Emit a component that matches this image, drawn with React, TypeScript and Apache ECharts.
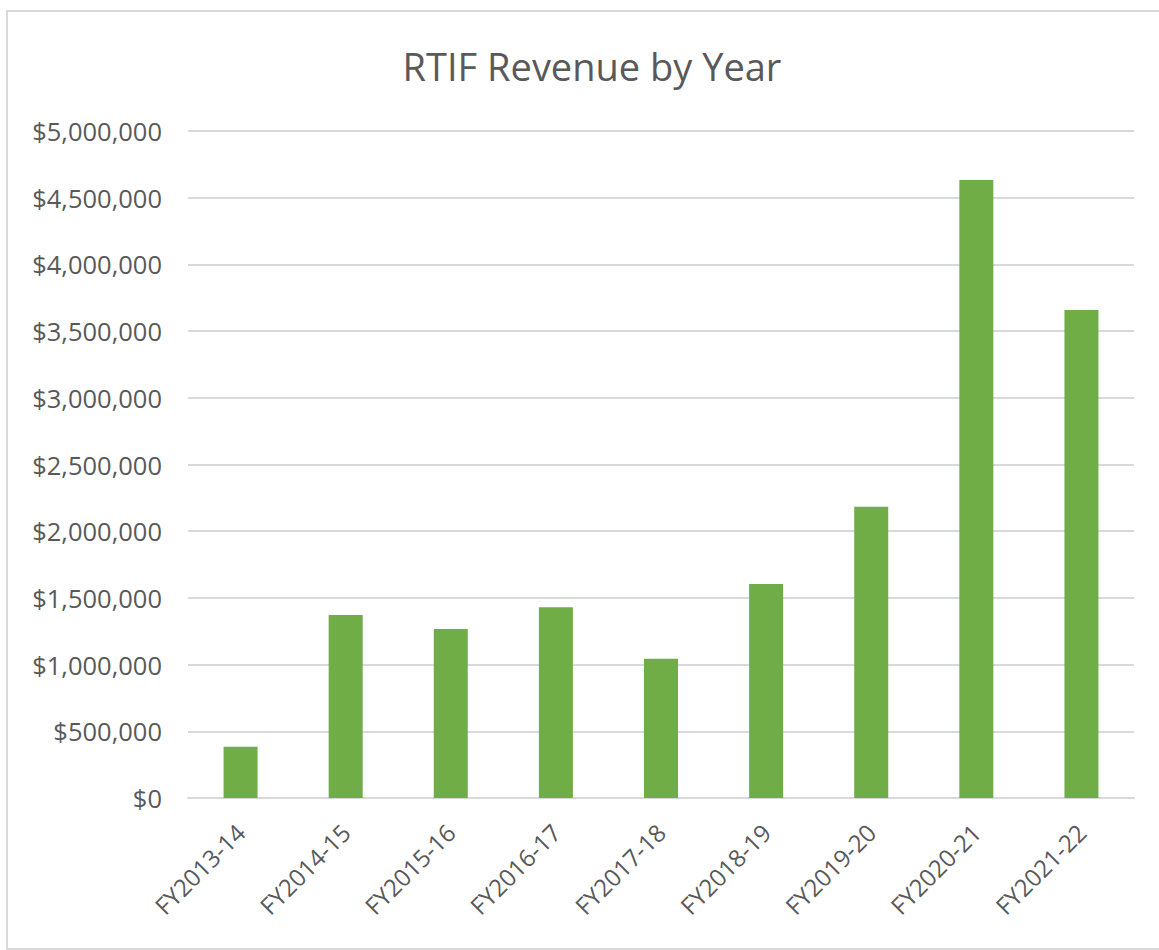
import React, { useEffect, useRef } from "react";
import * as echarts from "echarts";

const categories: string[] = [
  "FY2013-14",
  "FY2014-15",
  "FY2015-16",
  "FY2016-17",
  "FY2017-18",
  "FY2018-19",
  "FY2019-20",
  "FY2020-21",
  "FY2021-22",
];

const revenue: number[] = [385000, 1372000, 1267000, 1429000, 1044000, 1604000, 2184000, 4633000, 3658000];

const chartTitle = "RTIF Revenue by Year";
const yMin = 0;
const yMax = 5000000;
const yInterval = 500000;

const fmtMoney = (v: number) => "$" + v.toLocaleString("en-US");

export default function App() {
  const ref = useRef<HTMLDivElement>(null);

  useEffect(() => {
    if (!ref.current) return;
    const chart = echarts.init(ref.current, undefined, { renderer: "svg" });
    const font = "'Open Sans', 'Noto Sans', sans-serif";
    chart.setOption({
      animation: false,
      backgroundColor: "#ffffff",
      title: {
        text: chartTitle,
        left: 587,
        textAlign: "center",
        top: 42,
        textStyle: { fontFamily: font, fontSize: 38, fontWeight: "normal", color: "#595959" },
      },
      graphic: [
        {
          type: "rect",
          shape: { x: 7, y: 11, width: 1170, height: 938 },
          style: { fill: "none", stroke: "#d9d9d9", lineWidth: 2 },
          silent: true,
        },
      ],
      grid: { left: 188, top: 131, width: 946, height: 667, containLabel: false },
      xAxis: {
        type: "category",
        data: categories,
        axisLine: { show: true, lineStyle: { color: "#d9d9d9", width: 2 } },
        axisTick: { show: false },
        axisLabel: {
          rotate: 45,
          interval: 0,
          margin: 30,
          fontFamily: font,
          fontSize: 24,
          color: "#595959",
        },
      },
      yAxis: {
        type: "value",
        min: yMin,
        max: yMax,
        interval: yInterval,
        axisLine: { show: false },
        axisTick: { show: false },
        splitLine: { lineStyle: { color: "#d9d9d9", width: 2 } },
        axisLabel: {
          formatter: (v: number) => fmtMoney(v),
          margin: 26,
          fontFamily: font,
          fontSize: 25.5,
          color: "#595959",
        },
      },
      series: [
        {
          type: "bar",
          data: revenue,
          barWidth: 34,
          itemStyle: { color: "#70ad47" },
        },
      ],
    });
    return () => chart.dispose();
  }, []);

  return (
    <div
      ref={ref}
      style={{ position: "fixed", left: 0, top: 0, width: 1159, height: 950, background: "#fff" }}
    />
  );
}
